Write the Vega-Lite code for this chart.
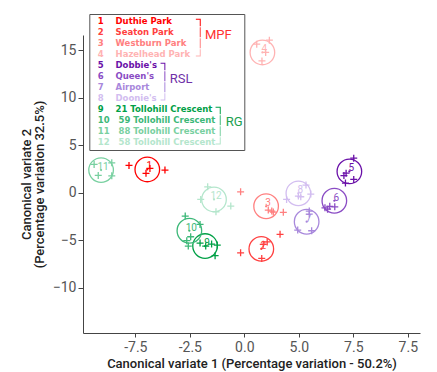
{
  "$schema": "https://vega.github.io/schema/vega-lite/v6.json",
  "width": 337,
  "height": 298,
  "autosize": {"type": "none"},
  "padding": {"left": 83, "top": 35, "right": 17, "bottom": 39},
  "background": "white",
  "config": {"view": {"stroke": null}, "font": "Roboto"},
  "title": {
    "text": "CVA of odd chain alkane profiles for individual sites",
    "anchor": "start",
    "frame": "group",
    "orient": "top",
    "baseline": "alphabetic",
    "offset": 10,
    "dx": -70,
    "color": "#5e8c0a",
    "fontSize": 14,
    "fontWeight": "bold",
    "font": "Roboto"
  },
  "datasets": {
    "centroids": [
      {"key": "1 Duthie Park", "num": "1", "group": "MPF", "x": -4.45, "y": 2.44},
      {"key": "2 Seaton Park", "num": "2", "group": "MPF", "x": 0.78, "y": -5.93},
      {"key": "3 Westburn Park", "num": "3", "group": "MPF", "x": 1.0, "y": -1.44},
      {"key": "4 Hazelhead Park", "num": "4", "group": "MPF", "x": 0.83, "y": 14.76},
      {"key": "5 Dobbie's", "num": "5", "group": "RSL", "x": 4.82, "y": 2.23},
      {"key": "6 Queen's", "num": "6", "group": "RSL", "x": 4.13, "y": -0.86},
      {"key": "7 Airport", "num": "7", "group": "RSL", "x": 2.86, "y": -3.07},
      {"key": "8 Doonie's", "num": "8", "group": "RSL", "x": 2.48, "y": -0.08},
      {"key": "9 21 Tollohill Crescent", "num": "9", "group": "RG", "x": -1.80, "y": -5.63},
      {"key": "10 59 Tollohill Crescent", "num": "10", "group": "RG", "x": -2.52, "y": -4.02},
      {"key": "11 88 Tollohill Crescent", "num": "11", "group": "RG", "x": -6.57, "y": 2.37},
      {"key": "12 58 Tollohill Crescent", "num": "12", "group": "RG", "x": -1.39, "y": -0.72}
    ],
    "points": [
      {"key": "1 Duthie Park", "x": -5.29, "y": 2.86},
      {"key": "1 Duthie Park", "x": -4.33, "y": 2.55},
      {"key": "1 Duthie Park", "x": -4.51, "y": 2.03},
      {"key": "1 Duthie Park", "x": -3.64, "y": 2.37},
      {"key": "2 Seaton Park", "x": 0.87, "y": -5.45},
      {"key": "2 Seaton Park", "x": 1.05, "y": -5.2},
      {"key": "2 Seaton Park", "x": 0.80, "y": -6.93},
      {"key": "2 Seaton Park", "x": -0.17, "y": -6.34},
      {"key": "2 Seaton Park", "x": 1.64, "y": -4.40},
      {"key": "3 Westburn Park", "x": 1.10, "y": -1.84},
      {"key": "3 Westburn Park", "x": 1.26, "y": -1.95},
      {"key": "3 Westburn Park", "x": 1.33, "y": -2.05},
      {"key": "3 Westburn Park", "x": 1.79, "y": -2.08},
      {"key": "3 Westburn Park", "x": -0.17, "y": 0.08},
      {"key": "4 Hazelhead Park", "x": 0.57, "y": 15.63},
      {"key": "4 Hazelhead Park", "x": 1.15, "y": 16.05},
      {"key": "4 Hazelhead Park", "x": 0.98, "y": 14.76},
      {"key": "4 Hazelhead Park", "x": 0.81, "y": 13.87},
      {"key": "5 Dobbie's", "x": 5.02, "y": 3.63},
      {"key": "5 Dobbie's", "x": 4.67, "y": 2.05},
      {"key": "5 Dobbie's", "x": 4.57, "y": 1.79},
      {"key": "5 Dobbie's", "x": 5.02, "y": 1.39},
      {"key": "5 Dobbie's", "x": 4.64, "y": 1.0},
      {"key": "6 Queen's", "x": 3.70, "y": -1.60},
      {"key": "6 Queen's", "x": 3.92, "y": -1.45},
      {"key": "6 Queen's", "x": 4.15, "y": -1.50},
      {"key": "6 Queen's", "x": 3.82, "y": -1.75},
      {"key": "7 Airport", "x": 2.98, "y": -1.95},
      {"key": "7 Airport", "x": 2.98, "y": -2.26},
      {"key": "7 Airport", "x": 2.45, "y": -3.95},
      {"key": "7 Airport", "x": 3.09, "y": -4.02},
      {"key": "8 Doonie's", "x": 2.83, "y": 0.79},
      {"key": "8 Doonie's", "x": 3.05, "y": -0.16},
      {"key": "8 Doonie's", "x": 2.48, "y": -0.37},
      {"key": "8 Doonie's", "x": 2.59, "y": -0.44},
      {"key": "8 Doonie's", "x": 1.94, "y": -0.72},
      {"key": "9 21 Tollohill Crescent", "x": -1.77, "y": -5.63},
      {"key": "9 21 Tollohill Crescent", "x": -1.50, "y": -5.42},
      {"key": "9 21 Tollohill Crescent", "x": -1.24, "y": -5.53},
      {"key": "9 21 Tollohill Crescent", "x": -1.34, "y": -6.65},
      {"key": "9 21 Tollohill Crescent", "x": -2.03, "y": -5.32},
      {"key": "10 59 Tollohill Crescent", "x": -2.71, "y": -2.47},
      {"key": "10 59 Tollohill Crescent", "x": -2.03, "y": -3.35},
      {"key": "10 59 Tollohill Crescent", "x": -2.46, "y": -4.65},
      {"key": "10 59 Tollohill Crescent", "x": -2.64, "y": -5.07},
      {"key": "10 59 Tollohill Crescent", "x": -2.57, "y": -5.63},
      {"key": "11 88 Tollohill Crescent", "x": -6.89, "y": 2.97},
      {"key": "11 88 Tollohill Crescent", "x": -6.08, "y": 3.14},
      {"key": "11 88 Tollohill Crescent", "x": -6.70, "y": 1.81},
      {"key": "11 88 Tollohill Crescent", "x": -6.08, "y": 1.77},
      {"key": "12 58 Tollohill Crescent", "x": -1.68, "y": 0.61},
      {"key": "12 58 Tollohill Crescent", "x": -2.0, "y": -0.72},
      {"key": "12 58 Tollohill Crescent", "x": -1.30, "y": -2.02},
      {"key": "12 58 Tollohill Crescent", "x": -0.62, "y": -1.42}
    ]
  },
  "encoding": {
    "x": {
      "field": "x", "type": "quantitative",
      "scale": {"domain": [-7.4, 8.06], "nice": false, "zero": false},
      "axis": {
        "title": "Canonical variate 1 (Percentage variation - 50.2%)",
        "values": [-5, -2.5, 0, 2.5, 5, 7.5],
        "labelExpr": "datum.value == -5 ? '-7.5' : datum.value == -2.5 ? '-2.5' : datum.value == 0 ? '0.0' : datum.value == 2.5 ? '5.0' : '7.5'",
        "grid": false, "domainColor": "#444", "tickColor": "#444", "tickSize": 4,
        "labelFontSize": 14, "labelColor": "#555", "labelPadding": 3,
        "titleFontSize": 13, "titleFontWeight": 500, "titleColor": "#222", "titlePadding": 3
      }
    },
    "y": {
      "field": "y", "type": "quantitative",
      "scale": {"domain": [-14.79, 16.6], "nice": false, "zero": false},
      "axis": {
        "title": ["Canonical variate 2", "(Percentage variation 32.5%)"],
        "values": [-10, -5, 0, 5, 10, 15],
        "grid": false, "domainColor": "#444", "tickColor": "#444", "tickSize": 5,
        "labelFontSize": 14, "labelColor": "#555", "labelPadding": 2,
        "titleFontSize": 13, "titleFontWeight": 500, "titleColor": "#222", "titlePadding": 6, "titleLineHeight": 13
      }
    },
    "color": {
      "field": "key", "type": "nominal",
      "scale": {
        "domain": ["1 Duthie Park", "2 Seaton Park", "3 Westburn Park", "4 Hazelhead Park", "5 Dobbie's", "6 Queen's", "7 Airport", "8 Doonie's", "9 21 Tollohill Crescent", "10 59 Tollohill Crescent", "11 88 Tollohill Crescent", "12 58 Tollohill Crescent"],
        "range": ["#ff0000", "#ff4040", "#ff8080", "#ffb3b3", "#6a10a8", "#8a4cc4", "#a888dc", "#d2bdf0", "#00a046", "#3cb878", "#78d0a0", "#b4e6cc"]
      },
      "legend": {
        "title": null, "orient": "none", "legendX": 6.3, "legendY": -21,
        "padding": 3, "strokeColor": "#555", "fillColor": "white",
        "rowPadding": 0, "gridAlign": "all", "symbolSize": 4, "labelOffset": -3,
        "labelFont": "DejaVu Sans", "labelFontSize": 8.5, "labelFontWeight": "bold", "labelLimit": 400,
        "labelExpr": "(indexof(datum.label,' ')==1 ? '\u00a0' + substring(datum.label,0,1) + '\u00a0\u00a0\u00a0\u00a0' : substring(datum.label,0,2) + '\u00a0\u00a0\u00a0') + substring(datum.label, indexof(datum.label,' ')+1)",
        "encode": {
          "labels": {"update": {"fill": {"scale": "color", "field": "value"}}},
          "symbols": {"update": {
            "shape": {"signal": "toNumber(substring(datum.value,0,indexof(datum.value,' '))) == 1 ? 'M144,-4.75M144,4.75M99.3,-2.6H104.2V5H103.2V-1.6H99.3Z' : toNumber(substring(datum.value,0,indexof(datum.value,' '))) < 4 ? 'M144,-4.75M144,4.75M103.2,-5H104.2V5H103.2Z' : toNumber(substring(datum.value,0,indexof(datum.value,' '))) == 4 ? 'M144,-4.75M144,4.75M103.2,-5H104.2V2.3H99.3V1.3H103.2Z' : toNumber(substring(datum.value,0,indexof(datum.value,' '))) == 5 ? 'M144,-4.75M144,4.75M64,-2.6H68.8V5H67.8V-1.6H64Z' : toNumber(substring(datum.value,0,indexof(datum.value,' '))) < 8 ? 'M144,-4.75M144,4.75M67.8,-5H68.8V5H67.8Z' : toNumber(substring(datum.value,0,indexof(datum.value,' '))) == 8 ? 'M144,-4.75M144,4.75M67.8,-5H68.8V2.3H64V1.3H67.8Z' : toNumber(substring(datum.value,0,indexof(datum.value,' '))) == 9 ? 'M144,-4.75M144,4.75M119,-2.6H124.2V5H123.2V-1.6H119Z' : toNumber(substring(datum.value,0,indexof(datum.value,' '))) < 12 ? 'M144,-4.75M144,4.75M123.2,-5H124.2V5H123.2Z' : 'M144,-4.75M144,4.75M123.2,-5H124.2V2.3H119V1.3H123.2Z'"},
            "fill": {"signal": "toNumber(substring(datum.value,0,indexof(datum.value,' '))) <= 4 ? '#ff3030' : toNumber(substring(datum.value,0,indexof(datum.value,' '))) <= 8 ? '#7030a8' : '#20a050'"},
            "fillOpacity": {"value": 1},
            "stroke": {"value": "transparent"},
            "strokeWidth": {"value": 0},
            "size": {"value": 4},
            "opacity": {"value": 1}
          }}
        }
      }
    }
  },
  "layer": [
    {
      "data": {"name": "centroids"},
      "mark": {"type": "point", "shape": "circle", "filled": false, "size": 605, "strokeWidth": 1.3, "opacity": 1}
    },
    {
      "data": {"name": "centroids"},
      "mark": {"type": "point", "filled": true, "size": 5, "opacity": 1},
      "encoding": {
        "shape": {
          "field": "group", "type": "nominal",
          "scale": {"domain": ["MPF", "RSL", "RG"], "range": ["circle", "circle", "circle"]},
          "legend": {
            "title": null, "orient": "none", "legendX": 73.7, "legendY": -6.5,
            "padding": 0, "symbolSize": 1, "symbolOpacity": 0,
            "labelOffset": {"expr": "datum.value === 'MPF' ? 35.3 : datum.value === 'RG' ? 56 : 0"},
            "rowPadding": 29.6, "gridAlign": "all",
            "labelFont": "Roboto", "labelFontSize": 13, "labelLimit": 200,
            "labelColor": {"expr": "datum.value === 'MPF' ? '#ff3030' : datum.value === 'RSL' ? '#7030a8' : '#20a050'"}
          }
        }
      }
    },
    {
      "data": {"name": "centroids"},
      "mark": {"type": "text", "fontSize": 10, "font": "Roboto", "dx": 2, "dy": -3},
      "encoding": {"text": {"field": "num"}}
    },
    {
      "data": {"name": "points"},
      "mark": {"type": "point", "shape": "M-1,0L1,0M0,-1L0,1", "filled": false, "size": 49, "strokeWidth": 1.3, "opacity": 1}
    }
  ]
}
